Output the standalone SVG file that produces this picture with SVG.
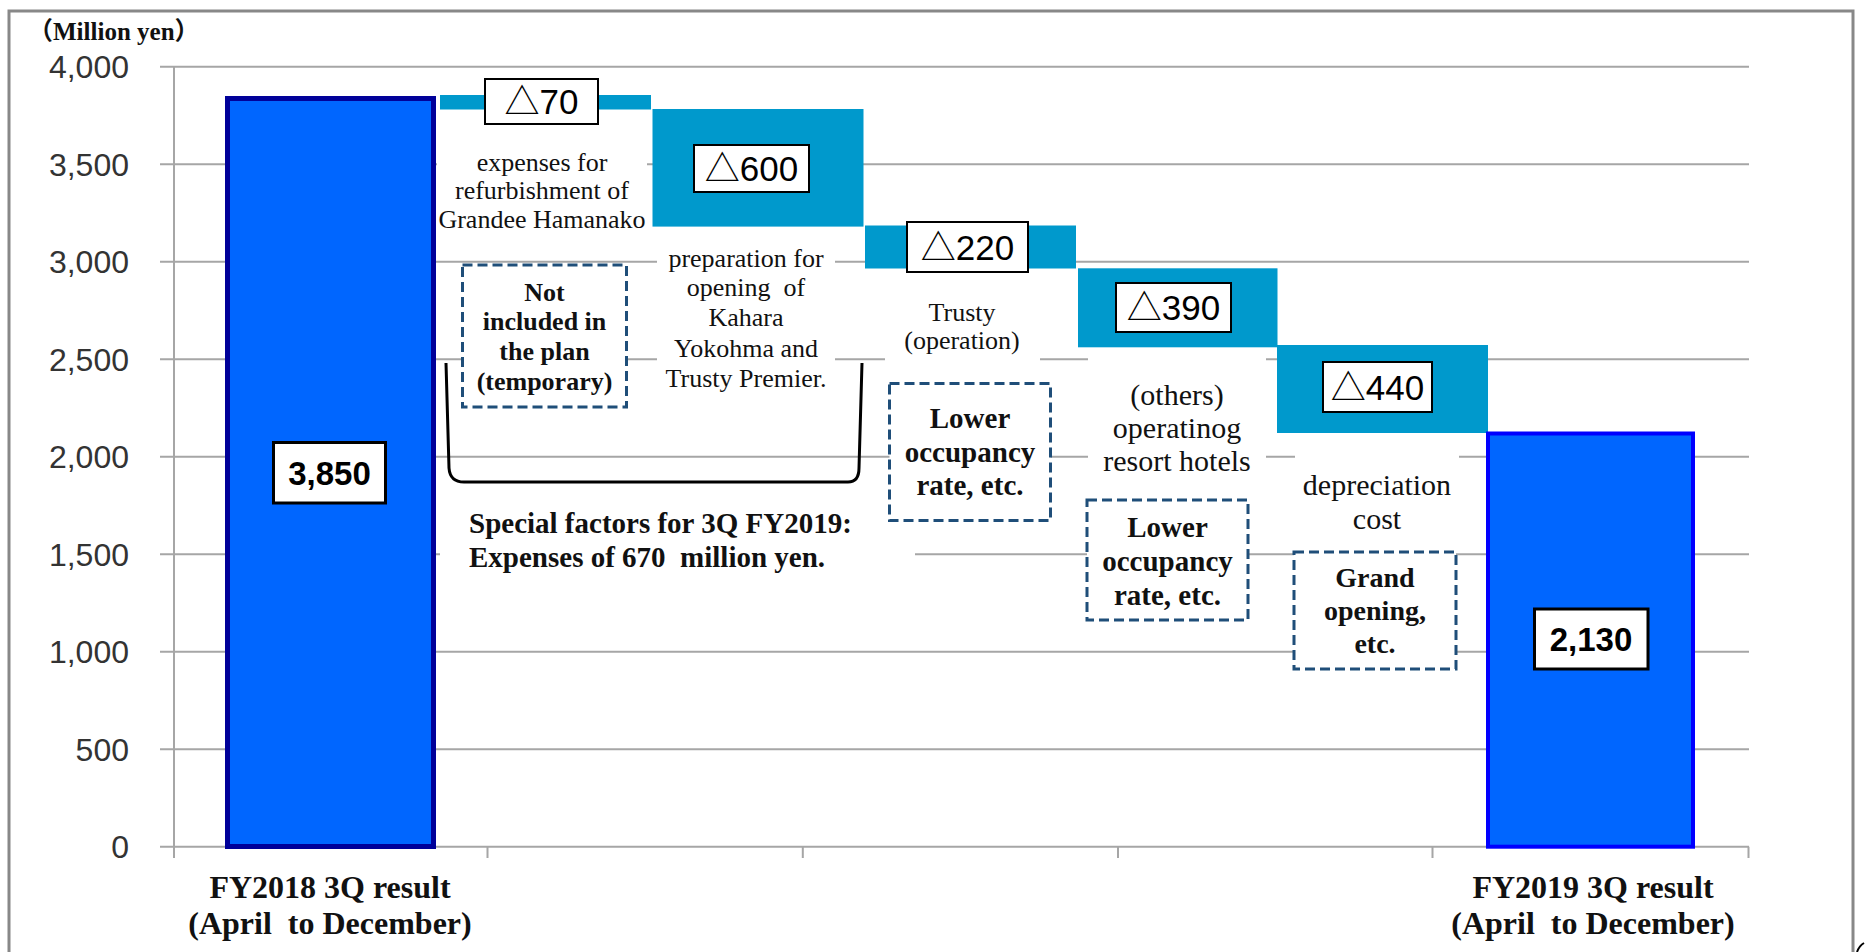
<svg xmlns="http://www.w3.org/2000/svg" width="1865" height="952" viewBox="0 0 1865 952">
<style>
.grid{stroke:#A6A6A6;stroke-width:2;fill:none}
.ax{font-family:"Liberation Sans",Arial,sans-serif;font-size:32px;fill:#333;text-anchor:end}
.delta{fill:#0099CC}
.vbox{fill:#fff;stroke:#000;stroke-width:2}
.dtxt{font-family:"Liberation Sans","Noto Sans CJK JP",sans-serif;font-size:35px;fill:#000;text-anchor:middle}
.num{font-family:"Liberation Sans",Arial,sans-serif;font-size:33px;font-weight:bold;fill:#000;text-anchor:middle}
.nbox{fill:#fff;stroke:#000;stroke-width:3}
.bg{fill:#fff}
.desc{font-family:"Liberation Serif","Times New Roman",serif;fill:#111;text-anchor:middle}
.bold{font-family:"Liberation Serif","Times New Roman",serif;font-weight:bold;fill:#111;text-anchor:middle}
.left{text-anchor:start}
.dash{fill:#fff;stroke:#1F4E79;stroke-width:3;stroke-dasharray:10 5}
</style>
<rect x="0" y="0" width="1865" height="952" fill="#fff"/>
<rect id="frame" x="9" y="11" width="1844" height="1000" fill="none" stroke="#888" stroke-width="3"/>
<path d="M1857,952 Q1859,946 1864,943" fill="none" stroke="#000" stroke-width="2"/>

<g id="grid">
<line class="grid" x1="160" y1="66.7" x2="1749" y2="66.7"/>
<line class="grid" x1="160" y1="164.2" x2="1749" y2="164.2"/>
<line class="grid" x1="160" y1="261.7" x2="1749" y2="261.7"/>
<line class="grid" x1="160" y1="359.2" x2="1749" y2="359.2"/>
<line class="grid" x1="160" y1="456.7" x2="1749" y2="456.7"/>
<line class="grid" x1="160" y1="554.2" x2="1749" y2="554.2"/>
<line class="grid" x1="160" y1="651.7" x2="1749" y2="651.7"/>
<line class="grid" x1="160" y1="749.2" x2="1749" y2="749.2"/>
<line class="grid" x1="160" y1="846.7" x2="1749" y2="846.7"/>
<line class="grid" x1="174" y1="66.7" x2="174" y2="858"/>
<path class="grid" d="M487.5,846.7V858M802.8,846.7V858M1118,846.7V858M1432.5,846.7V858M1748.5,846.7V858"/>
</g>

<g id="y-axis-labels">
<text class="ax" x="129" y="78.3">4,000</text>
<text class="ax" x="129" y="175.8">3,500</text>
<text class="ax" x="129" y="273.3">3,000</text>
<text class="ax" x="129" y="370.8">2,500</text>
<text class="ax" x="129" y="468.3">2,000</text>
<text class="ax" x="129" y="565.8">1,500</text>
<text class="ax" x="129" y="663.3">1,000</text>
<text class="ax" x="129" y="760.8">500</text>
<text class="ax" x="129" y="858.3">0</text>
</g>
<text x="28" y="40" font-family="'Liberation Serif','Noto Sans CJK JP',serif" font-weight="bold" font-size="25" fill="#111">（Million yen）</text>

<g id="bar-fy2018">
<rect x="227.5" y="98.5" width="206" height="748" fill="#0066FF" stroke="#000099" stroke-width="5"/>
</g>
<g id="bar-d70"><rect class="delta" x="440" y="95" width="211" height="14.5"/></g>
<g id="bar-d600"><rect class="delta" x="652.5" y="109" width="211" height="117.6"/></g>
<g id="bar-d220"><rect class="delta" x="865" y="225.5" width="211" height="43"/></g>
<g id="bar-d390"><rect class="delta" x="1078" y="268.3" width="199.5" height="79"/></g>
<g id="bar-d440"><rect class="delta" x="1277" y="345" width="211" height="88"/></g>
<g id="bar-fy2019">
<rect x="1488" y="433.5" width="205" height="413.2" fill="#0066FF" stroke="#0000FF" stroke-width="4"/>
</g>

<g id="text-backgrounds">
<rect class="bg" x="437" y="140" width="210" height="100"/>
<rect class="bg" x="657" y="240" width="178" height="155"/>
<rect class="bg" x="885" y="295" width="155" height="70"/>
<rect class="bg" x="1088" y="352" width="178" height="130"/>
<rect class="bg" x="1295" y="440" width="164" height="100"/>
<rect class="bg" x="440" y="495" width="475" height="85"/>
</g>

<g id="note-grandee" font-size="26">
<text class="desc" x="542" y="171">expenses for</text>
<text class="desc" x="542" y="199">refurbishment of</text>
<text class="desc" x="542" y="228">Grandee Hamanako</text>
</g>
<g id="note-kahara" font-size="26">
<text class="desc" x="746" y="267">preparation for</text>
<text class="desc" x="746" y="296" xml:space="preserve">opening  of</text>
<text class="desc" x="746" y="326">Kahara</text>
<text class="desc" x="746" y="357">Yokohma and</text>
<text class="desc" x="746" y="387">Trusty Premier.</text>
</g>
<g id="note-trusty" font-size="26">
<text class="desc" x="962" y="321">Trusty</text>
<text class="desc" x="962" y="349">(operation)</text>
</g>
<g id="note-others" font-size="30">
<text class="desc" x="1177" y="405">(others)</text>
<text class="desc" x="1177" y="438">operatinog</text>
<text class="desc" x="1177" y="471">resort hotels</text>
</g>
<g id="note-depreciation" font-size="30">
<text class="desc" x="1377" y="495">depreciation</text>
<text class="desc" x="1377" y="529">cost</text>
</g>

<g id="box-not-included">
<rect class="dash" x="462.5" y="265" width="164" height="142"/>
<text class="bold" x="544.5" y="301" font-size="26">Not</text>
<text class="bold" x="544.5" y="330" font-size="26">included in</text>
<text class="bold" x="544.5" y="360" font-size="26">the plan</text>
<text class="bold" x="544.5" y="390" font-size="26">(temporary)</text>
</g>
<g id="box-lower-1">
<rect class="dash" x="889.5" y="383.5" width="161" height="137"/>
<text class="bold" x="970" y="428" font-size="29">Lower</text>
<text class="bold" x="970" y="462" font-size="29">occupancy</text>
<text class="bold" x="970" y="495" font-size="29">rate, etc.</text>
</g>
<g id="box-lower-2">
<rect class="dash" x="1087" y="500" width="161" height="120"/>
<text class="bold" x="1167.5" y="537" font-size="29">Lower</text>
<text class="bold" x="1167.5" y="571" font-size="29">occupancy</text>
<text class="bold" x="1167.5" y="605" font-size="29">rate, etc.</text>
</g>
<g id="box-grand-opening">
<rect class="dash" x="1294" y="552" width="162" height="117"/>
<text class="bold" x="1375" y="587" font-size="28">Grand</text>
<text class="bold" x="1375" y="620" font-size="28">opening,</text>
<text class="bold" x="1375" y="653" font-size="28">etc.</text>
</g>

<g id="label-d70"><rect class="vbox" x="485" y="79" width="113" height="45"/><text class="dtxt" x="541.5" y="114">△70</text></g>
<g id="label-d600"><rect class="vbox" x="694" y="145" width="115" height="47"/><text class="dtxt" x="751.5" y="181">△600</text></g>
<g id="label-d220"><rect class="vbox" x="907" y="222" width="121" height="50"/><text class="dtxt" x="967.5" y="259.5">△220</text></g>
<g id="label-d390"><rect class="vbox" x="1116" y="283" width="115" height="49"/><text class="dtxt" x="1173.5" y="320">△390</text></g>
<g id="label-d440"><rect class="vbox" x="1323" y="362" width="109" height="50"/><text class="dtxt" x="1377.5" y="399.5">△440</text></g>

<g id="label-3850"><rect class="nbox" x="273.5" y="442.5" width="112" height="60.5"/><text class="num" x="329.5" y="484.5">3,850</text></g>
<g id="label-2130"><rect class="nbox" x="1534.5" y="609" width="113.5" height="60"/><text class="num" x="1591" y="651">2,130</text></g>

<g id="connectors">
<path d="M446,363 L449,468 Q450,482 464,482 L848,482 Q859,482 859,468 L862,363" fill="none" stroke="#000" stroke-width="3"/>
</g>

<g id="special-factors">
<text class="bold left" x="469" y="533" font-size="29">Special factors for 3Q FY2019:</text>
<text class="bold left" x="469" y="567" font-size="29" xml:space="preserve">Expenses of 670  million yen.</text>
</g>

<g id="x-axis-labels">
<text class="bold" x="330" y="898" font-size="32">FY2018 3Q result</text>
<text class="bold" x="330" y="934" font-size="32" xml:space="preserve">(April  to December)</text>
<text class="bold" x="1593" y="898" font-size="32">FY2019 3Q result</text>
<text class="bold" x="1593" y="934" font-size="32" xml:space="preserve">(April  to December)</text>
</g>
</svg>
